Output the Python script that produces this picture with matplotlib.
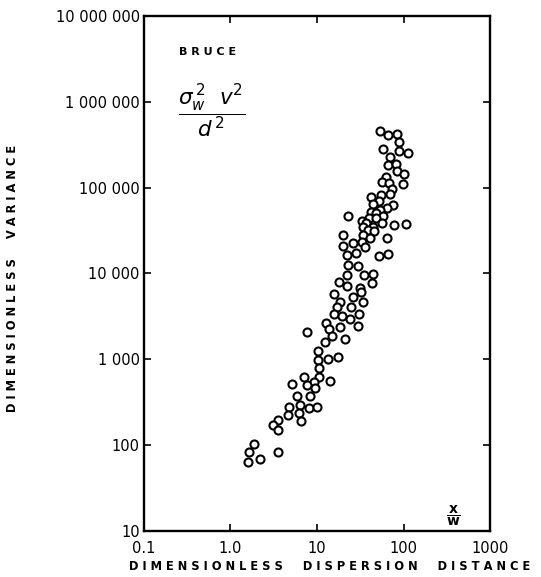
import numpy as np
import matplotlib
matplotlib.use('Agg')
import matplotlib.pyplot as plt
from matplotlib.ticker import FixedLocator, NullLocator

# dimensionless dispersion distance x/w
x_dist = [54.0, 66.7, 83.4, 88.7, 57.9, 88.7, 112.7, 69.8, 66.7, 81.9,
          84.8, 102, 62.3, 56.0, 68.0, 99.5, 74.2, 69.8, 55.4, 42.1,
          52.1, 44.8, 75.6, 63.9, 53.5, 42.1, 47.7, 57.5, 22.6, 39.9,
          48.1, 32.9, 36.8, 56.4, 78.3, 107, 44.8, 33.7, 39.2, 45.6,
          19.8, 34.3, 41.0, 63.9, 26.3, 32.9, 20.1, 35.9, 22.0, 28.0,
          52.1, 65.7, 22.6, 30.0, 22.0, 35.2, 44.8, 18.1, 22.4, 42.9,
          31.4, 15.7, 26.1, 32.0, 18.4, 34.0, 16.9, 24.7, 15.8, 19.3,
          30.6, 24.1, 12.6, 13.9, 18.4, 29.8, 7.60, 14.8, 20.9, 12.5,
          10.2, 10.3, 13.3, 17.6, 10.4, 7.08, 10.4, 9.23, 14.0, 5.14,
          7.60, 9.48, 8.37, 5.87, 6.41, 4.78, 8.02, 10.1, 6.24, 4.66,
          3.57, 3.08, 6.53, 3.51, 1.87, 1.64, 3.54, 2.21, 1.61]

# dimensionless variance  sigma_w^2 v^2 / d^2
y_var = [456000, 410000, 425000, 337000, 284000, 267000, 253000, 227000, 184000, 189000,
         156000, 144000, 133000, 116000, 112000, 110000, 95800, 84500, 82200, 77300,
         70600, 64600, 62900, 57600, 55000, 52600, 51200, 46900, 47200, 44100,
         44100, 41300, 38500, 38500, 36800, 37500, 35200, 34300, 32200, 30800,
         27700, 27700, 25800, 25800, 22900, 23500, 21000, 20100, 16500, 17300,
         15800, 16900, 12600, 12100, 9480, 9580, 9930, 7860, 7060, 7730,
         6820, 5810, 5400, 6120, 4690, 4690, 4070, 4130, 3370, 3220,
         3400, 2950, 2650, 2260, 2400, 2420, 2080, 1890, 1740, 1580,
         1260, 993, 1010, 1070, 786, 618, 624, 550, 565, 518,
         504, 460, 381, 378, 297, 282, 272, 282, 236, 223,
         199, 175, 192, 151, 104, 83.8, 82.9, 70.0, 64.1]

x_ticks = [0.1, 1.0, 10, 100, 1000]
x_labels = ['0.1', '1.0', '10', '100', '1000']
y_ticks = [10, 100, 1000, 10000, 100000, 1000000, 10000000]
y_labels = ['10', '100', '1 000', '10 000', '100 000', '1 000 000', '10 000 000']


def spaced(s):
    # old drafting style lettering: letters spread out
    return ' '.join(s).replace('   ', '     ')


plt.rcParams['font.family'] = ['DejaVu Sans']

fig = plt.figure(figsize=(5.41, 5.77), dpi=100)
ax = fig.add_axes([0.266, 0.079, 0.640, 0.894])

ax.plot(x_dist, y_var, 'o', mfc='white', mec='black', ms=5.8, mew=1.5, ls='none')

ax.set_xscale('log')
ax.set_yscale('log')
ax.set_xlim(0.1, 1000)
ax.set_ylim(10, 10000000)

ax.xaxis.set_major_locator(FixedLocator(x_ticks))
ax.yaxis.set_major_locator(FixedLocator(y_ticks))
ax.xaxis.set_minor_locator(NullLocator())
ax.yaxis.set_minor_locator(NullLocator())
ax.set_xticklabels(x_labels)
ax.set_yticklabels(y_labels)

ax.tick_params(direction='in', top=True, right=True, length=5, width=1.2,
               labelsize=10.5)
ax.tick_params(axis='x', pad=7)
ax.tick_params(axis='y', pad=3)
for sp in ax.spines.values():
    sp.set_linewidth(1.7)

ax.set_xlabel(spaced('DIMENSIONLESS DISPERSION DISTANCE'), fontsize=8.3,
              fontweight='bold')
ax.xaxis.set_label_coords(0.535, -0.056)
ax.set_ylabel(spaced('DIMENSIONLESS VARIANCE'), fontsize=8.3,
              fontweight='bold')
ax.yaxis.set_label_coords(-0.36, 0.49)

ax.text(0.10, 0.93, spaced('BRUCE'), transform=ax.transAxes, fontsize=8,
        fontweight='bold', ha='left', va='center')
ax.text(0.098, 0.815, r'$\dfrac{\sigma_w^{\,2}\ \ v^2}{d^{\,2}}$', transform=ax.transAxes,
        fontsize=15.5, ha='left', va='center')
ax.text(0.895, 0.03, r'$\dfrac{\mathbf{x}}{\mathbf{w}}$', transform=ax.transAxes,
        fontsize=10, ha='center', va='center')

fig.savefig('out.png', dpi=100)
